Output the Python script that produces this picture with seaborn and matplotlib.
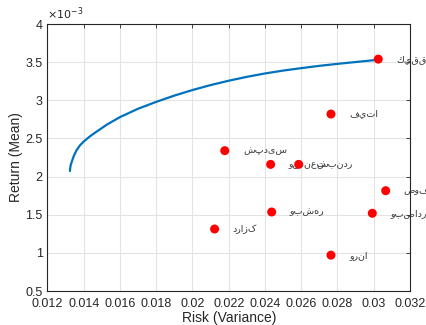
import numpy as np
import pandas as pd
import seaborn as sns
import matplotlib
matplotlib.use("Agg")
import matplotlib.pyplot as plt
from matplotlib.ticker import FuncFormatter, MultipleLocator

# ---------------- data ---------------- #
# efficient frontier
frontier_risk = [0.01324, 0.01325, 0.01328, 0.01334, 0.01345, 0.01361, 0.01380, 0.01400,
                 0.01430, 0.01462, 0.01530, 0.01600, 0.01700, 0.01800, 0.01900, 0.02000,
                 0.02100, 0.02200, 0.02300, 0.02400, 0.02500, 0.02600, 0.02700, 0.02800,
                 0.02900, 0.03000, 0.03025]
frontier_return = [0.002073, 0.002110, 0.002150, 0.002195, 0.002270, 0.002349, 0.002412, 0.002460,
                   0.002520, 0.002575, 0.002685, 0.002780, 0.002890, 0.002980, 0.003062, 0.003135,
                   0.003200, 0.003257, 0.003308, 0.003352, 0.003390, 0.003422, 0.003452, 0.003478,
                   0.003502, 0.003526, 0.003540]

# stocks
stock_names = ["كيقق", "فيتا", "شپدیس", "وصنعت", "شبندر", "صوفی", "وبشهر", "وبصادر", "درازک", "ورنا"]
stock_risk = [0.03025, 0.02764, 0.02178, 0.02431, 0.02586, 0.03066, 0.02437, 0.02992, 0.02122, 0.02764]
stock_return = [0.00354, 0.00282, 0.00234, 0.00216, 0.00216, 0.001815, 0.001536, 0.001519, 0.001313, 0.00097]

frontier = pd.DataFrame({"risk": frontier_risk, "ret": frontier_return})
stocks = pd.DataFrame({"name": stock_names, "risk": stock_risk, "ret": stock_return})

# ---------------- style ---------------- #
sns.set_style("white")
plt.rcParams["font.family"] = ["Liberation Sans", "DejaVu Sans"]
edge = "#262626"

fig = plt.figure(figsize=(4.26, 3.25), dpi=100)
ax = fig.add_axes([0.1115, 0.1046, 0.8509, 0.8214])

sns.lineplot(data=frontier, x="risk", y="ret", ax=ax, sort=False,
             color="#0072BD", linewidth=1.6, zorder=3)
sns.scatterplot(data=stocks, x="risk", y="ret", ax=ax, color="red",
                s=42, edgecolor="none", zorder=4)

for _, row in stocks.iterrows():
    ax.text(row["risk"] + 0.001, row["ret"], row["name"], fontsize=6.8,
            color="#333333", va="center", ha="left", zorder=3.5)

# ---------------- axes ---------------- #
ax.set_xlim(0.012, 0.032)
ax.set_ylim(0.0005, 0.004)
ax.xaxis.set_major_locator(MultipleLocator(0.002))
ax.yaxis.set_major_locator(MultipleLocator(0.0005))
ax.xaxis.set_major_formatter(FuncFormatter(lambda v, p: f"{v:g}"))
ax.yaxis.set_major_formatter(FuncFormatter(lambda v, p: f"{round(v * 1e3, 2):g}"))

ax.grid(True, color="#e3e3e3", linewidth=0.8)
ax.set_axisbelow(True)
for spine in ax.spines.values():
    spine.set_visible(True)
    spine.set_color(edge)
    spine.set_linewidth(0.8)
ax.tick_params(direction="in", length=3, width=0.6, colors=edge, labelsize=9,
               top=True, right=True, labeltop=False, labelright=False)
ax.tick_params(axis="x", pad=5)

ax.set_xlabel("Risk (Variance)", fontsize=10, color=edge, labelpad=1)
ax.set_ylabel("Return (Mean)", fontsize=10, color=edge, labelpad=2)
ax.text(0.0, 1.008, r"$\times10^{-3}$", transform=ax.transAxes, fontsize=8,
        color=edge, ha="left", va="bottom")

plt.savefig("out.png", dpi=100)
plt.close()
